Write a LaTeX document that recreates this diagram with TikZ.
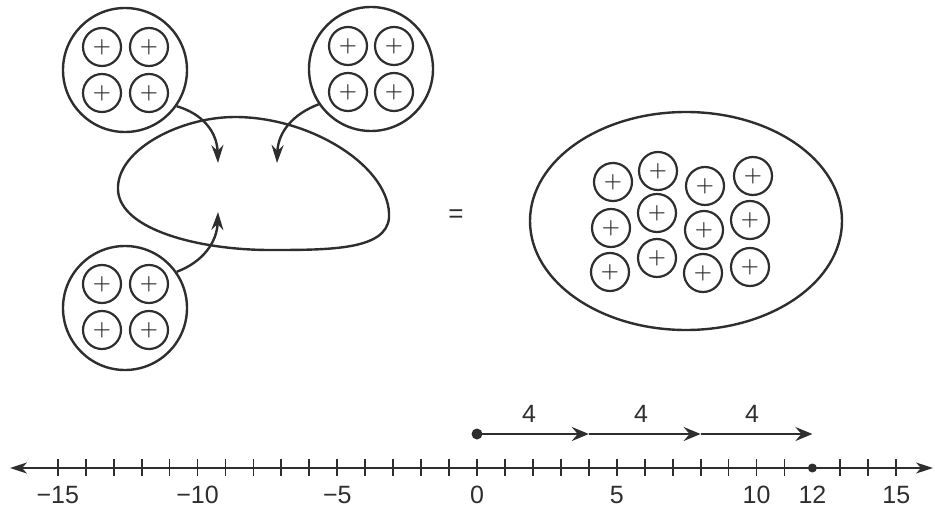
\documentclass[tikz,border=0pt]{standalone}
\usepackage{bm}
\usepackage{fontspec}
\setmainfont{Liberation Sans}
\usetikzlibrary{arrows.meta,shapes.geometric}
\definecolor{inkc}{gray}{0.18}
\newcommand{\chgsign}{$\bm{+}$}
\begin{document}
\begin{tikzpicture}[x=1pt,y=-1pt,
  ink/.style={draw=inkc, line width=2.4pt},
  grp/.style={circle, ink, minimum size=124pt, inner sep=0pt},
  chg/.style={circle, draw=inkc, line width=2.2pt, minimum size=38pt, inner sep=0pt,
              text=inkc, font=\fontsize{20}{20}\selectfont},
  feed/.style={ink, -{Stealth[length=18pt,width=12pt,inset=6pt]}},
  jump/.style={ink, -{Stealth[length=17pt,width=14pt,inset=6pt]}},
  lbl/.style={text=inkc, font=\fontsize{25}{25}\selectfont, inner sep=0pt},
  dot/.style={circle, fill=inkc, inner sep=0pt, minimum size=#1}]
\useasboundingbox (0,0) rectangle (935,508);

% three groups of four charges
\node[grp] (gA) at (125,70) {};
\node[chg] (a1) at (102,47) {\chgsign};
\node[chg] (a2) at (149,47) {\chgsign};
\node[chg] (a3) at (102,93) {\chgsign};
\node[chg] (a4) at (149,93) {\chgsign};

\node[grp] (gB) at (371,69) {};
\node[chg] (b1) at (348,46) {\chgsign};
\node[chg] (b2) at (394,46) {\chgsign};
\node[chg] (b3) at (348,92) {\chgsign};
\node[chg] (b4) at (394,92) {\chgsign};

\node[grp] (gC) at (125,308) {};
\node[chg] (c1) at (102,284) {\chgsign};
\node[chg] (c2) at (149,284) {\chgsign};
\node[chg] (c3) at (102,330) {\chgsign};
\node[chg] (c4) at (149,330) {\chgsign};

% the egg-shaped blob that collects them
\draw[ink] (118,190) .. controls (116,150) and (180,117) .. (235,117)
                     .. controls (312,117) and (392,168) .. (389,218)
                     .. controls (386,250) and (330,250) .. (270,250)
                     .. controls (200,250) and (120,230) .. cycle;

\coordinate (tA) at (218,163);
\coordinate (tB) at (277,163);
\coordinate (tC) at (218,212);

\draw[feed] (gA.-35) .. controls (203,114) and (217,132) .. (tA);
\draw[feed] (gB.-146) .. controls (293,114) and (278,132) .. (tB);
\draw[feed] (gC.35) .. controls (203,262) and (217,242) .. (tC);

\node[lbl, font=\fontsize{26}{26}\selectfont] (eq) at (456,216) {=};

% the combined group of twelve
\node[ellipse, ink, minimum width=312pt, minimum height=218pt, inner sep=0pt] (big) at (686,221) {};
\node[chg] (d1)  at (613,182) {\chgsign};
\node[chg] (d2)  at (611,228) {\chgsign};
\node[chg] (d3)  at (610,272) {\chgsign};
\node[chg] (d4)  at (658,171) {\chgsign};
\node[chg] (d5)  at (657,213) {\chgsign};
\node[chg] (d6)  at (657,258) {\chgsign};
\node[chg] (d7)  at (705,186) {\chgsign};
\node[chg] (d8)  at (704,230) {\chgsign};
\node[chg] (d9)  at (703,273) {\chgsign};
\node[chg] (d10) at (753,176) {\chgsign};
\node[chg] (d11) at (750,220) {\chgsign};
\node[chg] (d12) at (750,267) {\chgsign};

% number line
\coordinate (L) at (10,468);
\coordinate (R) at (933,468);
\draw[ink, line width=2pt, {Stealth[length=17pt,width=11pt,inset=5pt]}-{Stealth[length=17pt,width=11pt,inset=5pt]}] (L) -- (R);
\foreach \n in {-15,...,15}{
  \ifnum\n=12\else
    \draw[draw=inkc, line width=1.8pt] ({477+\n*27.95},459) -- ({477+\n*27.95},476);
  \fi
}
\foreach \n/\t in {-15/{−15},-10/{−10},-5/{−5},0/0,5/5,10/10,12/12,15/15}{
  \node[lbl] at ({477+\n*27.95},495) {\t};
}
\node[dot=9pt] (p12) at ({477+12*27.95},468) {};

% three jumps of four
\node[dot=11pt] (j0) at (477,434) {};
\coordinate (j1) at ({477+4*27.95},434);
\coordinate (j2) at ({477+8*27.95},434);
\coordinate (j3) at ({477+12*27.95},434);
\draw[jump] (j0.center) -- (j1);
\draw[jump] (j1) -- (j2);
\draw[jump] (j2) -- (j3);
\node[lbl] at (529,414) {4};
\node[lbl] at (641,414) {4};
\node[lbl] at (752,414) {4};
\end{tikzpicture}
\end{document}
